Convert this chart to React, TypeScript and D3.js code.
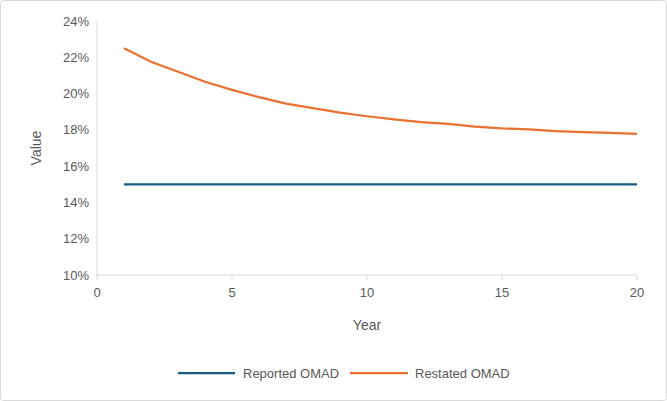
import * as d3 from "d3";

const years = d3.range(1, 21);
const reported = [15, 15, 15, 15, 15, 15, 15, 15, 15, 15, 15, 15, 15, 15, 15, 15, 15, 15, 15, 15];
const restated = [22.5, 21.75, 21.2, 20.65, 20.2, 19.8, 19.45, 19.2, 18.95, 18.75, 18.58, 18.43, 18.33, 18.18, 18.08, 18.03, 17.93, 17.88, 17.83, 17.78];
const xTicks = [0, 5, 10, 15, 20];
const yTicks = [10, 12, 14, 16, 18, 20, 22, 24];

const W = 667;
const H = 401;
const M = { left: 97, right: 30, top: 21, bottom: 126 };
const BLUE = "#156082";
const ORANGE = "#E97132";
const FONT = "'Liberation Sans', 'Noto Sans', sans-serif";

export default function App() {
  const x = d3.scaleLinear().domain([0, 20]).range([M.left, W - M.right]);
  const y = d3.scaleLinear().domain([10, 24]).range([H - M.bottom, M.top]);
  const line = d3
    .line<number>()
    .x((_, i) => x(years[i]))
    .y((d) => y(d));

  return (
    <svg width={W} height={H} style={{ position: "absolute", left: 0, top: 0, fontFamily: FONT }}>
      <rect x={0.5} y={0.5} width={W - 1} height={H - 1} rx={3} fill="#fff" stroke="#d9d9d9" />
      <line x1={x(0)} x2={x(0)} y1={y(10)} y2={y(24)} stroke="#d9d9d9" />
      <line x1={x(0)} x2={x(20)} y1={y(10)} y2={y(10)} stroke="#d9d9d9" />
      {yTicks.map((t) => (
        <text key={t} x={x(0) - 8} y={y(t)} dy="0.35em" textAnchor="end" fontSize={13} fill="#595959">
          {t}%
        </text>
      ))}
      {xTicks.map((t) => (
        <g key={t}>
          <line x1={x(t)} x2={x(t)} y1={y(10)} y2={y(10) + 5} stroke="#d9d9d9" />
          <text x={x(t)} y={y(10) + 22} textAnchor="middle" fontSize={13} fill="#595959">
            {t}
          </text>
        </g>
      ))}
      <text x={(x(0) + x(20)) / 2} y={330} textAnchor="middle" fontSize={14} fill="#595959">
        Year
      </text>
      <text transform={`translate(41,${(y(10) + y(24)) / 2}) rotate(-90)`} textAnchor="middle" fontSize={14} fill="#595959">
        Value
      </text>
      <path d={line(reported)!} fill="none" stroke={BLUE} strokeWidth={2.25} />
      <path d={line(restated)!} fill="none" stroke={ORANGE} strokeWidth={2.25} />
      <line x1={178} x2={235} y1={373} y2={373} stroke={BLUE} strokeWidth={2.25} />
      <text x={243} y={373} dy="0.35em" fontSize={13} fill="#595959">Reported OMAD</text>
      <line x1={350} x2={408} y1={373} y2={373} stroke={ORANGE} strokeWidth={2.25} />
      <text x={415} y={373} dy="0.35em" fontSize={13} fill="#595959">Restated OMAD</text>
    </svg>
  );
}
